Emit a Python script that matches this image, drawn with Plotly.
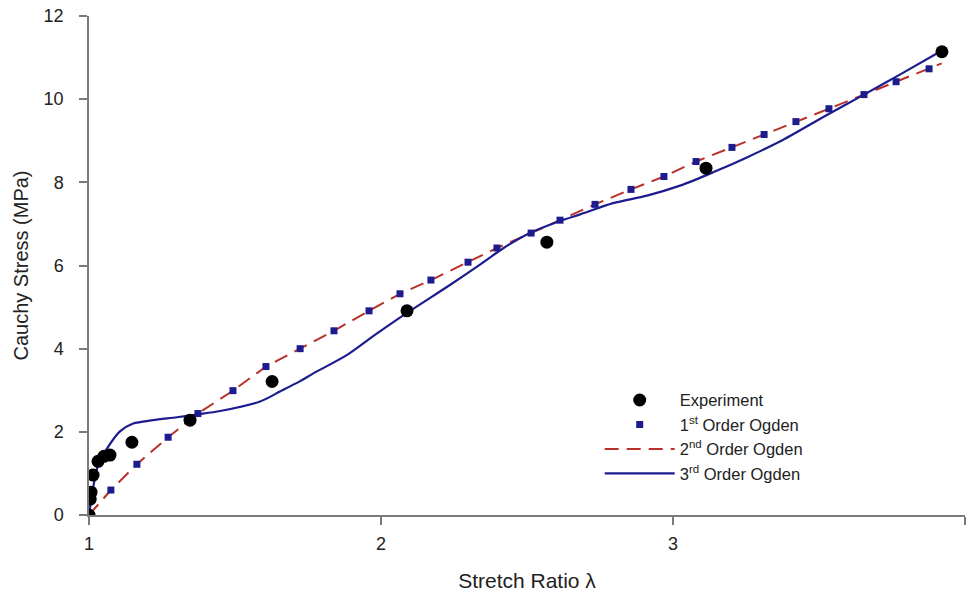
import plotly.graph_objects as go

# Experimental data
exp_x = [1.0, 1.004, 1.007, 1.014, 1.031, 1.051, 1.072, 1.147, 1.346, 1.627, 2.089, 2.568, 3.113, 3.921]
exp_y = [0.0, 0.38, 0.55, 0.96, 1.29, 1.41, 1.44, 1.75, 2.28, 3.21, 4.91, 6.56, 8.34, 11.14]

# 1st order Ogden (markers)
o1_x = [1.0, 1.075, 1.164, 1.271, 1.373, 1.493, 1.606, 1.723, 1.839, 1.959, 2.065, 2.171, 2.298,
        2.397, 2.514, 2.613, 2.733, 2.856, 2.969, 3.079, 3.202, 3.312, 3.421, 3.534, 3.654, 3.764, 3.877]
o1_y = [0.0, 0.60, 1.22, 1.87, 2.44, 2.99, 3.57, 4.00, 4.43, 4.91, 5.32, 5.65, 6.08,
        6.42, 6.78, 7.09, 7.47, 7.83, 8.14, 8.50, 8.84, 9.15, 9.46, 9.77, 10.11, 10.42, 10.73]

# 2nd order Ogden (dashed line)
o2_x = [1.0, 1.075, 1.164, 1.271, 1.373, 1.493, 1.606, 1.723, 1.839, 1.959, 2.065, 2.171, 2.298,
        2.397, 2.514, 2.613, 2.733, 2.856, 2.969, 3.079, 3.202, 3.312, 3.421, 3.534, 3.654, 3.764, 3.877, 3.92]
o2_y = [0.0, 0.60, 1.22, 1.87, 2.44, 2.99, 3.57, 4.00, 4.43, 4.91, 5.32, 5.65, 6.08,
        6.42, 6.78, 7.09, 7.47, 7.83, 8.14, 8.50, 8.84, 9.15, 9.46, 9.77, 10.11, 10.42, 10.73, 10.86]

# 3rd order Ogden (solid line)
o3_x = [1.0, 1.014, 1.031, 1.062, 1.106, 1.151, 1.219, 1.301, 1.373, 1.449, 1.586, 1.654, 1.723,
        1.767, 1.884, 1.973, 2.089, 2.236, 2.339, 2.420, 2.510, 2.613, 2.682, 2.795, 2.911, 3.024,
        3.137, 3.253, 3.366, 3.527, 3.654, 3.777, 3.914]
o3_y = [0.0, 0.65, 1.20, 1.60, 2.01, 2.20, 2.28, 2.35, 2.42, 2.50, 2.73, 2.97, 3.22,
        3.40, 3.85, 4.30, 4.86, 5.53, 6.02, 6.42, 6.78, 7.07, 7.23, 7.50, 7.68, 7.92,
        8.24, 8.60, 8.98, 9.62, 10.11, 10.59, 11.14]

x_ticks = [1, 2, 3, 4]
y_ticks = [0, 2, 4, 6, 8, 10, 12]

FONT = "Arial, Liberation Sans, sans-serif"
NAVY = "#1c1c8f"
RED = "#b8302a"

fig = go.Figure()
fig.add_trace(go.Scatter(x=o2_x, y=o2_y, mode="lines", name="2<sup>nd</sup> Order Ogden",
                         line=dict(color=RED, width=2, dash="14px,8px"), legendrank=3))
fig.add_trace(go.Scatter(x=o3_x, y=o3_y, mode="lines", name="3<sup>rd</sup> Order Ogden",
                         line=dict(color=NAVY, width=2.2, shape="spline", smoothing=0.8), legendrank=4))
fig.add_trace(go.Scatter(x=o1_x, y=o1_y, mode="markers", name="1<sup>st</sup> Order Ogden",
                         marker=dict(symbol="square", size=7, color=NAVY), legendrank=2))
fig.add_trace(go.Scatter(x=exp_x, y=exp_y, mode="markers", name="Experiment",
                         marker=dict(symbol="circle", size=13, color="black"), legendrank=1))

axis_common = dict(showline=True, linecolor="#7a7a7a", linewidth=1.5, ticks="outside",
                   ticklen=8, tickcolor="#7a7a7a", tickwidth=1.5, showgrid=False, zeroline=False,
                   tickfont=dict(family=FONT, size=18, color="#222"))

fig.update_layout(
    width=968, height=592,
    margin=dict(l=89, r=3, t=16, b=75),
    paper_bgcolor="white", plot_bgcolor="white",
    font=dict(family=FONT, color="#222"),
    xaxis=dict(range=[1, 4], tickvals=x_ticks, ticklabelstandoff=4,
               title=dict(text="Stretch Ratio λ", font=dict(family=FONT, size=21, color="#222"), standoff=20),
               **axis_common),
    yaxis=dict(range=[0, 12], tickvals=y_ticks, ticklabelstandoff=12,
               title=dict(text="Cauchy Stress (MPa)", font=dict(family=FONT, size=20, color="#222"), standoff=10),
               **axis_common),
    legend=dict(x=0.583, y=0.265, xanchor="left", yanchor="top", bgcolor="rgba(0,0,0,0)",
                font=dict(family=FONT, size=16.5, color="#222"), itemwidth=70, tracegroupgap=0),
    showlegend=True,
)

fig.write_html("out.html")
